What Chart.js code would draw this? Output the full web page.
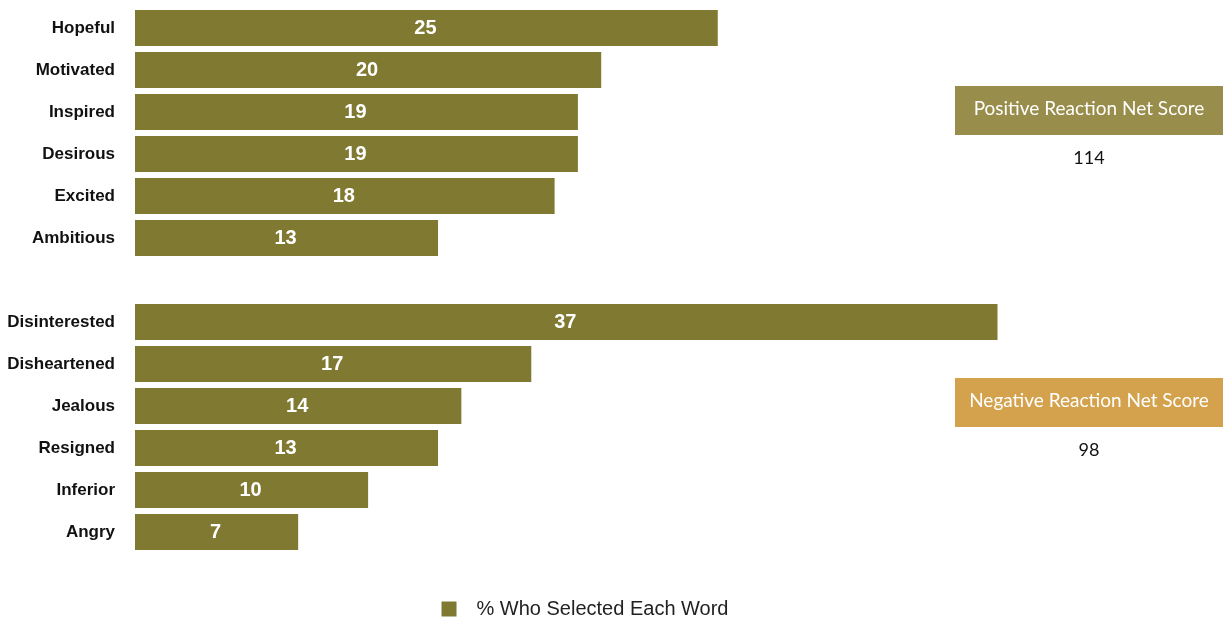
<!DOCTYPE html>
<html>
<head>
<meta charset="utf-8">
<script src="https://cdn.jsdelivr.net/npm/chart.js@4.4.1/dist/chart.umd.min.js"></script>
<style>
  html, body { margin: 0; padding: 0; background: #ffffff; overflow: hidden; }
  #wrap { position: relative; width: 1223px; height: 618px; overflow: hidden; }
  #chartBox { position: absolute; left: 0; top: 0; width: 1170px; height: 629px; }
  .score { position: absolute; left: 955px; width: 268px; text-align: center; font-family: "Lato", "Open Sans", sans-serif; }
  .score .head { height: 49px; line-height: 43px; color: #ffffff; font-size: 19px; }
  .score .val { margin-top: 11px; font-size: 18px; color: #111111; }
</style>
</head>
<body>
<div id="wrap">
  <div id="chartBox"><canvas id="chart"></canvas></div>
  <div class="score" id="scorePos" style="top:86px"><div class="head" style="background:#998d4c"></div><div class="val"></div></div>
  <div class="score" id="scoreNeg" style="top:378px"><div class="head" style="background:#d4a24c"></div><div class="val"></div></div>
</div>
<script>
// Reaction words (blank entry separates positive and negative groups)
const categories = ['Hopeful', 'Motivated', 'Inspired', 'Desirous', 'Excited', 'Ambitious', '',
                    'Disinterested', 'Disheartened', 'Jealous', 'Resigned', 'Inferior', 'Angry'];
const percentSelected = [25, 20, 19, 19, 18, 13, null, 37, 17, 14, 13, 10, 7];
const seriesLabel = '% Who Selected Each Word';

// Net score panels
const scoreTitles = ['Positive Reaction Net Score', 'Negative Reaction Net Score'];
const scoreValues = [114, 98];

const BAR_COLOR = '#807932';

['scorePos', 'scoreNeg'].forEach((id, i) => {
  const el = document.getElementById(id);
  el.querySelector('.head').textContent = scoreTitles[i];
  el.querySelector('.val').textContent = String(scoreValues[i]);
});

// Writes each bar's value in the middle of the bar
const barValueLabels = {
  id: 'barValueLabels',
  afterDatasetsDraw(chart) {
    const ctx = chart.ctx;
    const meta = chart.getDatasetMeta(0);
    const values = chart.data.datasets[0].data;
    ctx.save();
    ctx.fillStyle = '#ffffff';
    ctx.font = 'bold 20px "Liberation Sans", Arial, sans-serif';
    ctx.textAlign = 'center';
    ctx.textBaseline = 'middle';
    meta.data.forEach((bar, i) => {
      const v = values[i];
      if (v === null || v === undefined) return;
      const cx = (bar.x + bar.base) / 2 - 1;
      ctx.fillText(String(v), cx, bar.y);
    });
    ctx.restore();
  }
};

new Chart(document.getElementById('chart'), {
  type: 'bar',
  data: {
    labels: categories,
    datasets: [{
      label: seriesLabel,
      data: percentSelected,
      backgroundColor: BAR_COLOR,
      borderWidth: 0,
      barPercentage: 0.86,
      categoryPercentage: 1.0
    }]
  },
  options: {
    indexAxis: 'y',
    responsive: true,
    maintainAspectRatio: false,
    animation: false,
    layout: { padding: { top: 7, right: 0, bottom: 0, left: 0 } },
    scales: {
      x: {
        min: 0,
        max: 44.4,
        display: true,
        grid: { display: false, drawTicks: false },
        border: { display: false },
        ticks: { display: false },
        afterFit(axis) { axis.height = 42; }
      },
      y: {
        grid: { display: false, drawTicks: true, tickLength: 20 },
        border: { display: false },
        ticks: {
          padding: 0,
          color: '#111111',
          font: { family: '"Liberation Sans", Arial, sans-serif', size: 17, weight: 'bold', lineHeight: 0.8 }
        },
        afterFit(axis) { axis.width = 135; }
      }
    },
    plugins: {
      legend: {
        position: 'bottom',
        labels: {
          boxWidth: 15,
          boxHeight: 15,
          padding: 4,
          color: '#222222',
          font: { family: '"Liberation Sans", Arial, sans-serif', size: 20 },
          generateLabels(chart) {
            // a little extra room between the swatch and the text
            return Chart.defaults.plugins.legend.labels.generateLabels(chart)
              .map(item => Object.assign(item, { text: '\u2002' + item.text.trim() }));
          }
        }
      },
      tooltip: { enabled: false }
    }
  },
  plugins: [barValueLabels]
});
</script>
</body>
</html>
